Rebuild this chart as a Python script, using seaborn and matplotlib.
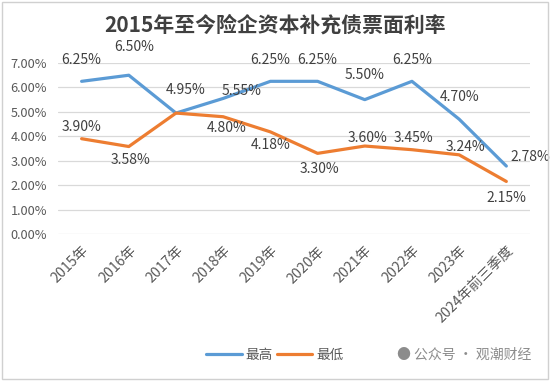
import pandas as pd
import matplotlib.pyplot as plt
import seaborn as sns
from matplotlib.patches import Rectangle
from matplotlib.ticker import FuncFormatter

# chart data
years = ["2015年", "2016年", "2017年", "2018年", "2019年", "2020年",
         "2021年", "2022年", "2023年", "2024年前三季度"]
high = [6.25, 6.50, 4.95, 5.55, 6.25, 6.25, 5.50, 6.25, 4.70, 2.78]
low = [3.90, 3.58, 4.95, 4.80, 4.18, 3.30, 3.60, 3.45, 3.24, 2.15]

sns.set_style("white")
plt.rcParams["font.family"] = ["Noto Sans CJK SC", "DejaVu Sans"]

df = pd.DataFrame({
    "year": years * 2,
    "rate": high + low,
    "series": ["最高"] * len(years) + ["最低"] * len(years),
})

blue, orange = "#5B9BD5", "#ED7D31"
text_c = "#595959"

fig = plt.figure(figsize=(5.5, 3.81), dpi=100)
ax = fig.add_axes([0.1055, 0.386, 0.858, 0.4486])
sns.lineplot(data=df, x="year", y="rate", hue="series", sort=False,
             palette=[blue, orange], linewidth=2.3, ax=ax, legend=False)

ax.set_xlim(-0.5, len(years) - 0.5)
ax.set_ylim(0, 7)
ax.set_yticks(range(0, 8))
ax.yaxis.set_major_formatter(FuncFormatter(lambda v, _: f"{v:.2f}%"))
ax.grid(axis="y", color="#d9d9d9", linewidth=0.9)
for s in ax.spines.values():
    s.set_visible(False)
ax.set_xlabel("")
ax.set_ylabel("")
ax.tick_params(axis="y", length=0, pad=8, labelsize=9.2, labelcolor=text_c)
ax.tick_params(axis="x", length=0, pad=7, labelsize=10.2, labelcolor=text_c)
plt.setp(ax.get_xticklabels(), rotation=45, ha="right", rotation_mode="anchor")

# data labels (offsets in pixels)
high_off = [(0, 21), (5, 28), (10, 23), (18, 7), (0, 21), (0, 21),
            (0, 25), (0, 21), (0, 22), (24, 9)]
low_off = [(0, 12), (2, -13), None, (3, -11), (0, -13), (2, -16),
           (3, 8), (1, 12), (6, 8), (0, -17)]
for i in range(len(years)):
    dx, dy = high_off[i]
    ax.annotate(f"{high[i]:.2f}%", (i, high[i]), xytext=(dx, dy),
                textcoords="offset pixels", ha="center", va="center",
                fontsize=10, color="#404040")
    if low_off[i] is not None:
        dx, dy = low_off[i]
        ax.annotate(f"{low[i]:.2f}%", (i, low[i]), xytext=(dx, dy),
                    textcoords="offset pixels", ha="center", va="center",
                    fontsize=10, color="#404040")

fig.text(0.5, 0.934, "2015年至今险企资本补充债票面利率", ha="center", va="center",
         fontsize=15, fontweight="bold", color="#404040")

# legend
handles = [plt.Line2D([], [], color=blue, linewidth=2.3),
           plt.Line2D([], [], color=orange, linewidth=2.3)]
fig.legend(handles, ["最高", "最低"], loc="center", bbox_to_anchor=(0.5, 0.068),
           ncol=2, frameon=False, fontsize=9.8, labelcolor=text_c,
           handlelength=2.6, handletextpad=0.3, columnspacing=0.3)

fig.text(0.967, 0.068, "● 公众号 · 观潮财经", ha="right", va="center",
         fontsize=10, color="#8c8c8c")

fig.patches.append(Rectangle((0.004, 0.004), 0.992, 0.992, transform=fig.transFigure,
                             fill=False, edgecolor="#d0d0d0", linewidth=1))

fig.savefig("out.png", dpi=100)
